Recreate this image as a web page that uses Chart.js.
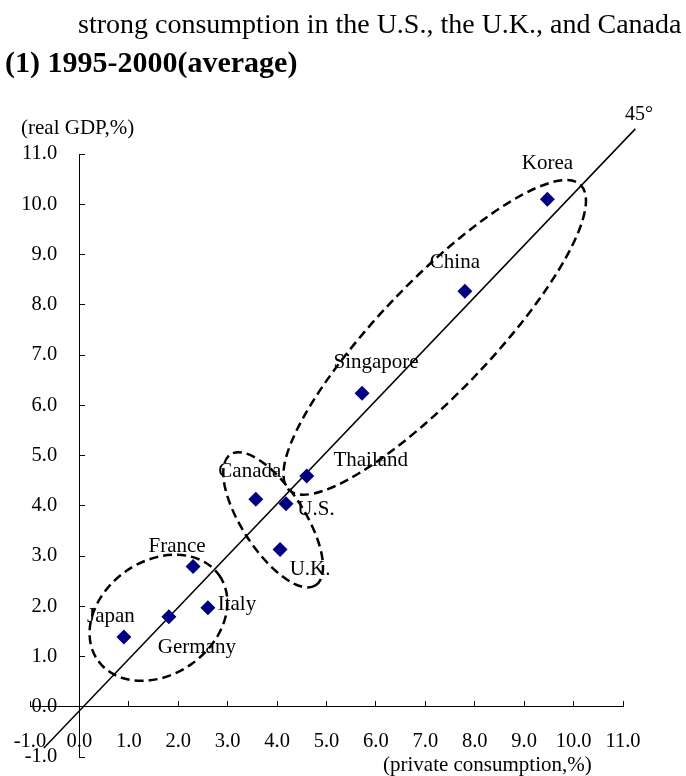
<!DOCTYPE html>
<html>
<head>
<meta charset="utf-8">
<script src="https://cdn.jsdelivr.net/npm/chart.js@4.4.0/dist/chart.umd.min.js"></script>
<style>
  body { margin: 0; background: #fff; }
  #wrap { position: relative; width: 686px; height: 776px; font-family: 'Liberation Serif', 'Times New Roman', serif; color: #000; }
  #chart { position: absolute; left: 0; top: 0; }
  .txt { position: absolute; white-space: nowrap; line-height: 1; }
</style>
</head>
<body>
<div id="wrap">
  <canvas id="chart" width="686" height="776"></canvas>
  <div class="txt" style="left:78px; top:10px; font-size:28px;">strong consumption in the U.S., the U.K., and Canada</div>
  <div class="txt" style="left:5px; top:47px; font-size:30px; font-weight:bold;">(1) 1995-2000(average)</div>
  <div class="txt" style="left:21px; top:117px; font-size:21px;">(real GDP,%)</div>
  <div class="txt" style="left:625px; top:103px; font-size:20px;">45°</div>
  <div class="txt" style="left:383px; top:754px; font-size:21px;">(private consumption,%)</div>
</div>
<script>
// --- Data ---
const COUNTRIES = ['Korea', 'China', 'Singapore', 'Thailand', 'Canada', 'U.S.', 'U.K.', 'France', 'Italy', 'Germany', 'Japan'];
const CONSUMPTION = [9.47, 7.80, 5.72, 4.60, 3.57, 4.18, 4.06, 2.30, 2.60, 1.81, 0.90];
const REAL_GDP = [10.10, 8.27, 6.24, 4.59, 4.13, 4.04, 3.13, 2.79, 1.97, 1.79, 1.39];
const TICK_LABELS = ['-1.0', '0.0', '1.0', '2.0', '3.0', '4.0', '5.0', '6.0', '7.0', '8.0', '9.0', '10.0', '11.0'];

// 45 degree reference line (ends as drawn)
const LINE_X = [-0.72, 11.25];
const LINE_Y = [-0.82, 11.5];

// --- Annotations (label offsets in px, dashed groups in data units) ---
const LABEL_OFFSETS = [[0, -36], [-10, -29], [14, -31], [64, -16], [-6, -28], [30, 6], [30, 20], [-16, -20], [29, -3], [28, 31], [-13, -20]];
const GROUPS = [
  { cx: 1.60, cy: 1.77, rx: 1.50, ry: 1.15, rot: -35 },
  { cx: 3.92, cy: 3.72, rx: 1.58, ry: 0.63, rot: 57 },
  { cx: 7.19, cy: 7.35, rx: 4.27, ry: 1.13, rot: -46.3 },
];

const FONT = '"Liberation Serif", "Times New Roman", serif';

const annotationPlugin = {
  id: 'annotations',
  afterDatasetsDraw(chart) {
    const { ctx } = chart;
    const xs = chart.scales.x;
    const ys = chart.scales.y;
    const unit = xs.getPixelForValue(1) - xs.getPixelForValue(0);
    ctx.save();
    ctx.strokeStyle = '#000';
    ctx.lineWidth = 2.5;
    ctx.setLineDash([9, 5]);
    GROUPS.forEach((g) => {
      ctx.beginPath();
      ctx.ellipse(xs.getPixelForValue(g.cx), ys.getPixelForValue(g.cy), g.rx * unit, g.ry * unit, (g.rot * Math.PI) / 180, 0, Math.PI * 2);
      ctx.stroke();
    });
    ctx.setLineDash([]);
    ctx.fillStyle = '#000';
    ctx.font = '21px ' + FONT;
    ctx.textAlign = 'center';
    ctx.textBaseline = 'middle';
    COUNTRIES.forEach((name, i) => {
      const px = xs.getPixelForValue(CONSUMPTION[i]) + LABEL_OFFSETS[i][0];
      const py = ys.getPixelForValue(REAL_GDP[i]) + LABEL_OFFSETS[i][1];
      ctx.fillText(name, px, py);
    });
    ctx.restore();
  },
};

// axis lines with inward tick marks, no labels
const axisLine = {
  type: 'linear',
  min: -1,
  max: 11,
  grid: { drawOnChartArea: false, drawTicks: true, tickLength: -6, color: '#000', lineWidth: 1 },
  border: { display: true, color: '#000', width: 1 },
  ticks: { stepSize: 1, autoSkip: false, display: false },
};

// label-only axes, placed where the tick labels sit
const axisLabels = {
  type: 'linear',
  min: -1,
  max: 11,
  grid: { display: false },
  border: { display: false },
  ticks: {
    stepSize: 1, autoSkip: false, maxRotation: 0, padding: 0, color: '#000',
    font: { family: FONT, size: 20.5 },
    callback: (v, i) => TICK_LABELS[i],
  },
};

new Chart(document.getElementById('chart'), {
  type: 'scatter',
  data: {
    datasets: [
      {
        data: COUNTRIES.map((c, i) => ({ x: CONSUMPTION[i], y: REAL_GDP[i] })),
        pointStyle: 'rectRot',
        pointRadius: 7.5,
        backgroundColor: '#000080',
        borderWidth: 0,
      },
      {
        type: 'line',
        data: LINE_X.map((v, i) => ({ x: v, y: LINE_Y[i] })),
        borderColor: '#000',
        borderWidth: 1.5,
        pointRadius: 0,
        clip: false,
      },
    ],
  },
  options: {
    responsive: false,
    animation: false,
    layout: { padding: { left: 30, right: 63, top: 154, bottom: 19 } },
    plugins: { legend: { display: false }, tooltip: { enabled: false } },
    scales: {
      x: { ...axisLine, position: { y: 0 } },
      y: { ...axisLine, position: { x: 0 } },
      xl: { ...axisLabels, axis: 'x', position: { y: -0.29 } },
      yl: { ...axisLabels, axis: 'y', position: { x: -0.45 } },
    },
  },
  plugins: [annotationPlugin],
});
</script>
</body>
</html>
